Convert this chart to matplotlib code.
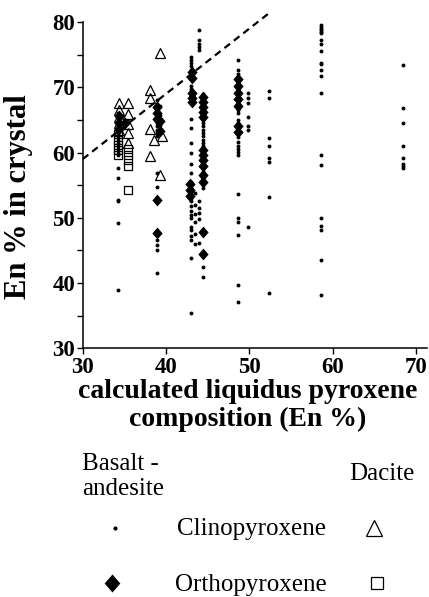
import matplotlib
matplotlib.use("Agg")
import matplotlib.pyplot as plt
from matplotlib.lines import Line2D
from matplotlib.ticker import MultipleLocator

# calculated liquidus En (x) for each sampled column and En measured in crystals (y)
# basalt-andesite clinopyroxene (small dots)
cpx_ba_x = [34.2, 38.9, 39.3, 44.0, 43.0, 43.5, 44.4, 44.0, 48.6, 49.9, 52.4, 58.6, 68.4]
cpx_ba_y = [
    [66.0, 65.5, 65.0, 64.5, 64.0, 63.5, 63.0, 62.5, 62.0, 61.5, 61.0, 60.5, 60.0, 59.6,
     57.6, 56.1, 52.8, 52.5, 49.2, 38.9],
    [68.0, 67.5, 67.0, 66.5, 66.0, 65.5, 65.0, 64.5, 64.0, 63.5, 63.0, 62.5,
     56.8, 54.7, 46.6, 45.8, 45.0, 41.5],
    [67.2, 65.8, 64.2, 63.0],
    [78.8, 77.2, 76.7, 76.2, 75.7],
    [74.7, 74.2, 73.7, 73.2, 72.7, 72.2, 71.7, 71.2, 70.2, 69.7, 69.2, 68.7, 68.2, 67.7,
     65.2, 63.7, 61.4, 59.9, 58.3, 56.8, 55.5, 55.0, 54.5, 54.0, 53.5, 53.0, 52.5, 51.8,
     51.0, 50.4, 50.0, 48.6, 48.1, 47.2, 46.6, 43.8, 35.4],
    [53.8, 52.0, 50.6, 49.3, 47.5, 46.0],
    [69.0, 68.5, 68.0, 67.5, 67.0, 66.5, 66.0, 65.5, 65.0, 64.5, 64.0, 63.5, 63.0, 62.5,
     62.0, 61.5, 61.0, 60.5, 60.0, 59.5, 59.0, 58.5, 58.0, 57.5, 57.0, 56.5, 56.0, 55.5,
     55.0, 54.5, 42.4, 40.9],
    [52.5, 51.5, 50.8, 49.8, 46.2],
    [74.2, 72.6, 72.1, 71.6, 71.1, 70.6, 70.1, 69.6, 69.1, 68.5, 68.0, 67.5, 66.5, 66.0,
     65.0, 64.5, 63.9, 62.4, 61.6, 61.0, 60.6, 60.1, 59.6, 53.7, 49.9, 49.4, 47.3, 39.7, 37.1],
    [69.2, 68.4, 67.6, 65.5, 64.0, 63.5, 48.6],
    [69.4, 68.4, 62.3, 61.0, 59.1, 58.6, 53.2, 38.4],
    [79.5, 79.3, 79.0, 78.8, 78.5, 78.3, 77.3, 76.6, 75.6, 73.8, 73.5, 72.6, 71.8, 69.1,
     59.6, 58.1, 50.0, 48.8, 48.1, 43.5, 38.1],
    [73.4, 66.9, 64.6, 61.0, 59.2, 58.3, 58.0, 57.7],
]

# basalt-andesite orthopyroxene (filled diamonds)
opx_ba_x = [34.3, 35.1, 38.9, 39.3, 43.1, 42.9, 44.4, 48.6]
opx_ba_y = [
    [65.6, 64.6, 63.6],
    [64.6],
    [67.0, 66.0, 65.2, 52.8, 47.6],
    [64.8, 63.3],
    [72.3, 71.5, 69.2, 68.4, 67.8],
    [55.2, 54.2, 53.3],
    [68.5, 67.8, 67.0, 66.2, 65.4, 60.4, 59.6, 58.8, 58.0, 56.5, 55.5, 47.8, 44.4],
    [71.2, 70.2, 69.2, 68.2, 67.2, 64.0, 63.2],
]

# dacite clinopyroxene (open triangles)
cpx_da_x = [34.3, 35.4, 38.1, 38.5, 39.3, 39.5]
cpx_da_y = [
    [67.6, 66.5, 65.4, 64.5, 63.5],
    [67.6, 65.9, 64.4, 63.0, 61.5],
    [69.6, 68.3, 63.6, 59.4],
    [62.0],
    [75.2, 56.5],
    [62.5],
]

# dacite orthopyroxene (open squares)
opx_da_x = [34.2, 35.4]
opx_da_y = [
    [62.8, 62.0, 61.2, 60.4, 59.6],
    [60.5, 59.6, 58.8, 58.0, 54.3],
]

# dashed reference line
ref_x = [30, 52.4]
ref_offset = 29

serif = "Liberation Serif"
plt.rcParams["font.family"] = [serif, "DejaVu Serif"]

fig = plt.figure(figsize=(4.29, 5.97), dpi=100)
ax = fig.add_axes([0.1928, 0.4166, 0.802, 0.5683])


def flatten(xs, ys):
    px, py = [], []
    for x, col in zip(xs, ys):
        px += [x] * len(col)
        py += col
    return px, py


diamond = [(0, 1.15), (1, 0), (0, -1.15), (-1, 0), (0, 1.15)]

x, y = flatten(cpx_ba_x, cpx_ba_y)
ax.plot(x, y, ls="none", marker="o", ms=2.8, mfc="black", mec="black", mew=0, zorder=3)
x, y = flatten(opx_ba_x, opx_ba_y)
ax.plot(x, y, ls="none", marker=diamond, ms=8.5, mfc="black", mec="black", mew=0, zorder=4)
x, y = flatten(cpx_da_x, cpx_da_y)
ax.plot(x, y, ls="none", marker="^", ms=7.5, mfc="none", mec="black", mew=0.9, zorder=5)
x, y = flatten(opx_da_x, opx_da_y)
ax.plot(x, y, ls="none", marker="s", ms=6.2, mfc="none", mec="black", mew=0.9, zorder=5)

ax.plot(ref_x, [v + ref_offset for v in ref_x], color="black", lw=1.6,
        ls=(0, (3.2, 2.2)), zorder=6, clip_on=False)

ax.set_xlim(30, 71.3)
ax.set_ylim(30, 82)
ax.spines["top"].set_visible(False)
ax.spines["right"].set_visible(False)
ax.spines["left"].set_bounds(30, 80)
for s in ("left", "bottom"):
    ax.spines[s].set_linewidth(1.1)

ax.xaxis.set_major_locator(MultipleLocator(10))
ax.yaxis.set_minor_locator(MultipleLocator(5))
ax.set_yticks([30, 40, 50, 60, 70, 80])
ax.tick_params(axis="both", which="both", direction="out", length=4, width=1.0)
ax.tick_params(axis="y", pad=1.5)
ax.tick_params(axis="x", pad=2.2)
for lab in ax.get_xticklabels() + ax.get_yticklabels():
    lab.set_fontweight("bold")
    lab.set_fontsize(16.5)

ax.set_ylabel("En % in crystal", fontsize=22, fontweight="bold")
ax.yaxis.set_label_coords(-0.145, 0.447)
ax.set_xlabel("calculated liquidus pyroxene\ncomposition (En %)", fontsize=20,
              fontweight="bold", linespacing=1.15)
ax.xaxis.set_label_coords(0.479, -0.090)

# key below the plot
W, H = 429.0, 597.0


def fx(px):
    return px / W


def fy(py):
    return 1 - py / H


key = dict(fontsize=18, va="baseline")
fig.text(fx(82), fy(470), "Basalt -", ha="left", **key)
fig.text(fx(82), fy(495), "andesite", ha="left", **key)
fig.text(fx(382), fy(480), "Dacite", ha="center", **key)
fig.text(fx(252), fy(535), "Clinopyroxene", ha="center", **key)
fig.text(fx(251), fy(591), "Orthopyroxene", ha="center", **key)

fig.add_artist(Line2D([fx(115)], [fy(528)], transform=fig.transFigure, ls="none",
                      marker="o", ms=3.0, mfc="black", mec="black", mew=0))
fig.add_artist(Line2D([fx(112)], [fy(583)], transform=fig.transFigure, ls="none",
                      marker=diamond, ms=13, mfc="black", mec="black", mew=0))
fig.add_artist(Line2D([fx(374)], [fy(528)], transform=fig.transFigure, ls="none",
                      marker="^", ms=11, mfc="none", mec="black", mew=0.9))
fig.add_artist(Line2D([fx(377)], [fy(583)], transform=fig.transFigure, ls="none",
                      marker="s", ms=9, mfc="none", mec="black", mew=0.9))

fig.savefig("out.png", dpi=100)
